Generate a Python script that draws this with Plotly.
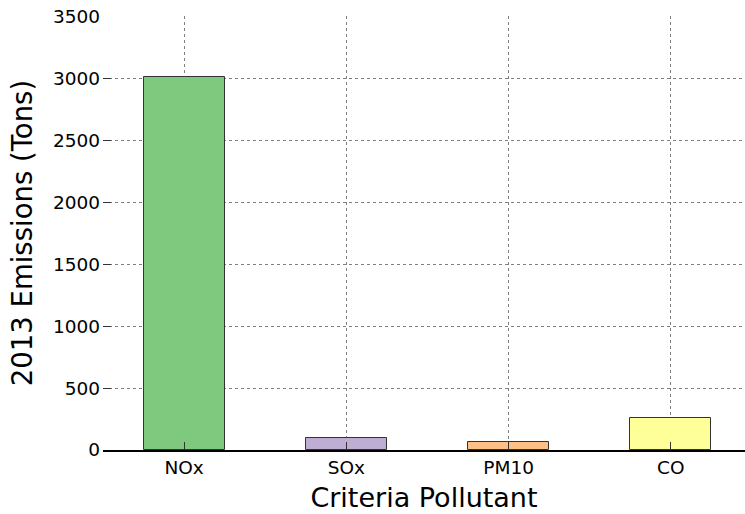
import plotly.graph_objects as go

categories = ["NOx", "SOx", "PM10", "CO"]
emissions = [3005, 97, 65, 255]
colors = ["#7fc97f", "#beaed4", "#fdc086", "#ffff99"]
y_ticks = [0, 500, 1000, 1500, 2000, 2500, 3000, 3500]

fig = go.Figure()
fig.add_trace(go.Bar(
    x=list(range(len(categories))),
    y=emissions,
    width=0.5,
    marker=dict(color=colors, line=dict(color="#333333", width=1)),
))

fig.update_layout(
    width=745, height=514,
    margin=dict(l=103, r=0, t=16, b=64),
    paper_bgcolor="white", plot_bgcolor="white",
    font=dict(family="DejaVu Sans", color="black", size=18.5),
    showlegend=False,
    bargap=0,
)
fig.update_xaxes(
    tickmode="array", tickvals=list(range(len(categories))), ticktext=categories,
    range=[-0.5, 3.457],
    showgrid=True, gridcolor="#808080", griddash="dot", gridwidth=1,
    ticks="inside", ticklen=8, tickcolor="#333333", tickwidth=1,
    showline=True, linecolor="black", linewidth=2,
    zeroline=False, automargin=False,
    title=dict(text="Criteria Pollutant", font=dict(size=27), standoff=11),
    tickfont=dict(size=18.5),
)
fig.update_yaxes(
    tickmode="array", tickvals=y_ticks,
    range=[0, 3501],
    showgrid=True, gridcolor="#808080", griddash="dot", gridwidth=1,
    ticks="inside", ticklen=8, tickcolor="#333333", tickwidth=1,
    showline=False, zeroline=False, automargin=False,
    ticklabelstandoff=2, ticklabeloverflow="allow",
    title=dict(text="2013 Emissions (Tons)", font=dict(size=27.5), standoff=12),
    tickfont=dict(size=18.5),
)

# remove the page's default 8px body margin so the figure fills the window exactly
fig.write_html("out.html", config={"displayModeBar": False},
               post_script="document.body.style.margin='0';")
